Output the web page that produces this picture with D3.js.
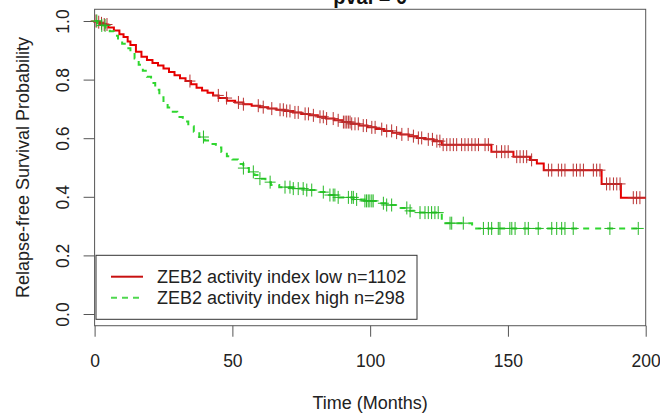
<!DOCTYPE html>
<html>
<head>
<meta charset="utf-8">
<script src="https://cdn.jsdelivr.net/npm/d3@7"></script>
<style>
  body { margin: 0; background: #fff; }
  svg { display: block; font-family: "Liberation Sans", Arial, sans-serif; }
</style>
</head>
<body>
<svg width="660" height="415"></svg>
<script>
// kaplan-meier curves
var lowTime = [0, 1, 2, 3, 5, 7, 9, 10.5, 12, 13, 15, 17, 19, 21, 23, 25, 27, 29, 31, 33, 35, 37, 39, 41, 43, 45, 48, 51, 54, 57, 60, 63, 66, 69, 72, 75, 78, 81, 84, 87, 90, 93, 96, 99, 102, 105, 108, 111, 114, 117, 120, 123, 126, 144, 152, 158, 160.5, 163, 184, 191];
var lowSurv = [1, 0.996, 0.992, 0.988, 0.978, 0.968, 0.955, 0.945, 0.93, 0.918, 0.895, 0.878, 0.867, 0.857, 0.848, 0.838, 0.826, 0.815, 0.805, 0.795, 0.784, 0.772, 0.763, 0.755, 0.746, 0.737, 0.728, 0.722, 0.716, 0.711, 0.706, 0.701, 0.697, 0.693, 0.688, 0.683, 0.678, 0.673, 0.667, 0.661, 0.655, 0.649, 0.643, 0.637, 0.631, 0.625, 0.619, 0.613, 0.607, 0.601, 0.596, 0.59, 0.578, 0.554, 0.537, 0.526, 0.514, 0.491, 0.444, 0.397];
var lowEnd = 200;
var lowCensor = [0.5, 1.5, 2.5, 3.5, 4.5, 34.6, 44.9, 47.9, 52.2, 54, 59.4, 61.2, 64.3, 67.3, 68.5, 69.7, 70.9, 72.7, 73.9, 76.4, 77.6, 79.4, 81.8, 83, 84.2, 86.6, 88.4, 90.3, 90.9, 91.5, 92.1, 92.7, 93.3, 94.5, 95.7, 97.5, 98.7, 100.6, 101.8, 104.2, 106, 107.8, 109.6, 111.5, 113.8, 115.7, 117.5, 118.7, 121.1, 122.6, 124.2, 125.3, 126.5, 127.8, 129, 130.2, 131.4, 133.2, 134.4, 135.6, 136.9, 138.1, 139.3, 141.7, 142.9, 145.9, 147.7, 148.9, 150.1, 153.2, 154.4, 155.6, 156.8, 158.6, 164.7, 165.9, 168.3, 169.5, 170.7, 173.7, 174.9, 176.2, 177.4, 181, 182.2, 183.4, 185.8, 187, 188.3, 189.5, 190.7, 195.5, 196.7, 197.9];

var highTime = [0, 1, 2.5, 4, 5.5, 7, 8.5, 10, 11.5, 13, 14.5, 16, 17.5, 19, 20.5, 22, 23.5, 25, 26.5, 28, 30, 32, 34, 36, 38, 40, 42, 44, 46, 48, 50, 52, 54, 56, 58, 60, 62, 64, 67, 72, 77, 81, 84, 88, 94, 98, 102, 106, 110, 114, 117, 126, 137];
var highSurv = [1, 0.993, 0.985, 0.977, 0.965, 0.95, 0.936, 0.922, 0.907, 0.891, 0.872, 0.851, 0.83, 0.81, 0.788, 0.765, 0.74, 0.722, 0.705, 0.69, 0.672, 0.657, 0.641, 0.622, 0.604, 0.592, 0.58, 0.568, 0.553, 0.538, 0.527, 0.512, 0.498, 0.485, 0.474, 0.462, 0.45, 0.44, 0.433, 0.428, 0.423, 0.416, 0.406, 0.398, 0.391, 0.386, 0.378, 0.372, 0.362, 0.352, 0.346, 0.31, 0.292];
var highEnd = 198;
var highCensor = [0.8, 2.6, 3.8, 39.5, 54, 57.6, 60, 63.7, 69.1, 70.9, 72.1, 73.9, 75.7, 77, 78.8, 83, 85.4, 86.6, 87.2, 88.4, 92.1, 93.3, 93.9, 95.1, 98.1, 98.7, 99.3, 99.9, 100.6, 101.1, 104.8, 106, 107.8, 113.3, 114.5, 118.1, 119.9, 121.1, 122.3, 123.5, 124.7, 129, 129.6, 133.8, 141.1, 142.9, 144.1, 146.5, 147.1, 150.7, 151.4, 152.6, 156.2, 157.4, 161, 165.9, 167.7, 169.5, 170.7, 173.7, 187, 197.3];

var xTicks = [0, 50, 100, 150, 200];
var yTicks = [0, 0.2, 0.4, 0.6, 0.8, 1.0];
var legendLabels = ["ZEB2 activity index low n=1102", "ZEB2 activity index high n=298"];
var title = "pval = 0";

var svg = d3.select("svg");
var x = d3.scaleLinear().domain([0, 200]).range([94.6, 645.7]);
var y = d3.scaleLinear().domain([0, 1]).range([314, 21]);

// survival at time t (step function)
function survAt(times, surv, t) {
  var i = d3.bisectRight(times, t) - 1;
  return surv[Math.max(i, 0)];
}

function stepData(times, surv, end) {
  var pts = times.map(function(t, i) { return [t, surv[i]]; });
  pts.push([end, surv[surv.length - 1]]);
  return pts;
}

var line = d3.line()
  .x(function(d) { return x(d[0]); })
  .y(function(d) { return y(d[1]); })
  .curve(d3.curveStepAfter);

// title (mostly cut off at the top, like the original)
svg.append("text")
  .attr("x", (x.range()[0] + x.range()[1]) / 2)
  .attr("y", 4)
  .attr("text-anchor", "middle")
  .attr("font-size", 20)
  .attr("font-weight", "bold")
  .attr("fill", "#111")
  .text(title);

// axes
var xAxis = svg.append("g")
  .attr("transform", "translate(0," + y(-0.04) + ")")
  .call(d3.axisBottom(x).tickValues(xTicks).tickSize(11).tickSizeOuter(0).tickPadding(18));
xAxis.select(".domain").remove();
xAxis.selectAll("line").attr("stroke", "#555");
xAxis.selectAll("text").attr("font-size", 17.5).attr("fill", "#222")
  .attr("font-family", "Liberation Sans, Arial, sans-serif");

var yAxis = svg.append("g")
  .attr("transform", "translate(" + x(0) + ",0)")
  .call(d3.axisLeft(y).tickValues(yTicks).tickSize(11).tickFormat(d3.format(".1f")));
yAxis.select(".domain").remove();
yAxis.selectAll("line").attr("stroke", "#555");
yAxis.selectAll("text")
  .attr("x", null).attr("dy", null).attr("y", 0)
  .attr("transform", "translate(-26,0) rotate(-90)")
  .attr("text-anchor", "middle")
  .attr("font-size", 17.5).attr("fill", "#222")
  .attr("font-family", "Liberation Sans, Arial, sans-serif");

// box
svg.append("rect")
  .attr("x", x(0)).attr("y", y(1.04))
  .attr("width", x(200) - x(0)).attr("height", y(-0.04) - y(1.04))
  .attr("fill", "none").attr("stroke", "#555").attr("stroke-width", 1);

// axis titles
svg.append("text")
  .attr("x", (x(0) + x(200)) / 2).attr("y", 409)
  .attr("text-anchor", "middle").attr("font-size", 18).attr("fill", "#222")
  .text("Time (Months)");
svg.append("text")
  .attr("transform", "translate(29," + (y(1.04) + y(-0.04)) / 2 + ") rotate(-90)")
  .attr("text-anchor", "middle").attr("font-size", 18).attr("fill", "#222")
  .text("Relapse-free Survival Probability");

// curves
var curves = [
  {time: lowTime, surv: lowSurv, end: lowEnd, censor: lowCensor, col: "#e60000", mark: "#b83030", dash: null},
  {time: highTime, surv: highSurv, end: highEnd, censor: highCensor, col: "#2fd62f", mark: "#24b824", dash: "6,6"}
];

curves.forEach(function(c) {
  svg.append("path")
    .datum(stepData(c.time, c.surv, c.end))
    .attr("d", line)
    .attr("fill", "none")
    .attr("stroke", c.col)
    .attr("stroke-width", 2)
    .attr("stroke-dasharray", c.dash);

  svg.append("g").selectAll("path")
    .data(c.censor)
    .enter().append("path")
      .attr("d", function(t) {
        var cx = x(t), cy = y(survAt(c.time, c.surv, t));
        return "M" + (cx - 5.5) + "," + cy + "H" + (cx + 5.5) + "M" + cx + "," + (cy - 6.5) + "V" + (cy + 6.5);
      })
      .attr("stroke", c.mark)
      .attr("stroke-width", 1)
      .attr("fill", "none");
});

// legend
var lg = svg.append("g");
lg.append("rect")
  .attr("x", 96).attr("y", 255.3).attr("width", 321).attr("height", 64)
  .attr("fill", "#fff").attr("stroke", "#333").attr("stroke-width", 1);
legendLabels.forEach(function(lab, i) {
  var ly = 276.7 + i * 21;
  lg.append("line")
    .attr("x1", 111).attr("x2", 143).attr("y1", ly).attr("y2", ly)
    .attr("stroke", i === 0 ? "#c81010" : "#4fd84f").attr("stroke-width", 2)
    .attr("stroke-dasharray", i === 0 ? null : "6,5");
  lg.append("text")
    .attr("x", 157).attr("y", ly + 6.5)
    .attr("font-size", 18).attr("fill", "#222")
    .text(lab);
});
</script>
</body>
</html>
